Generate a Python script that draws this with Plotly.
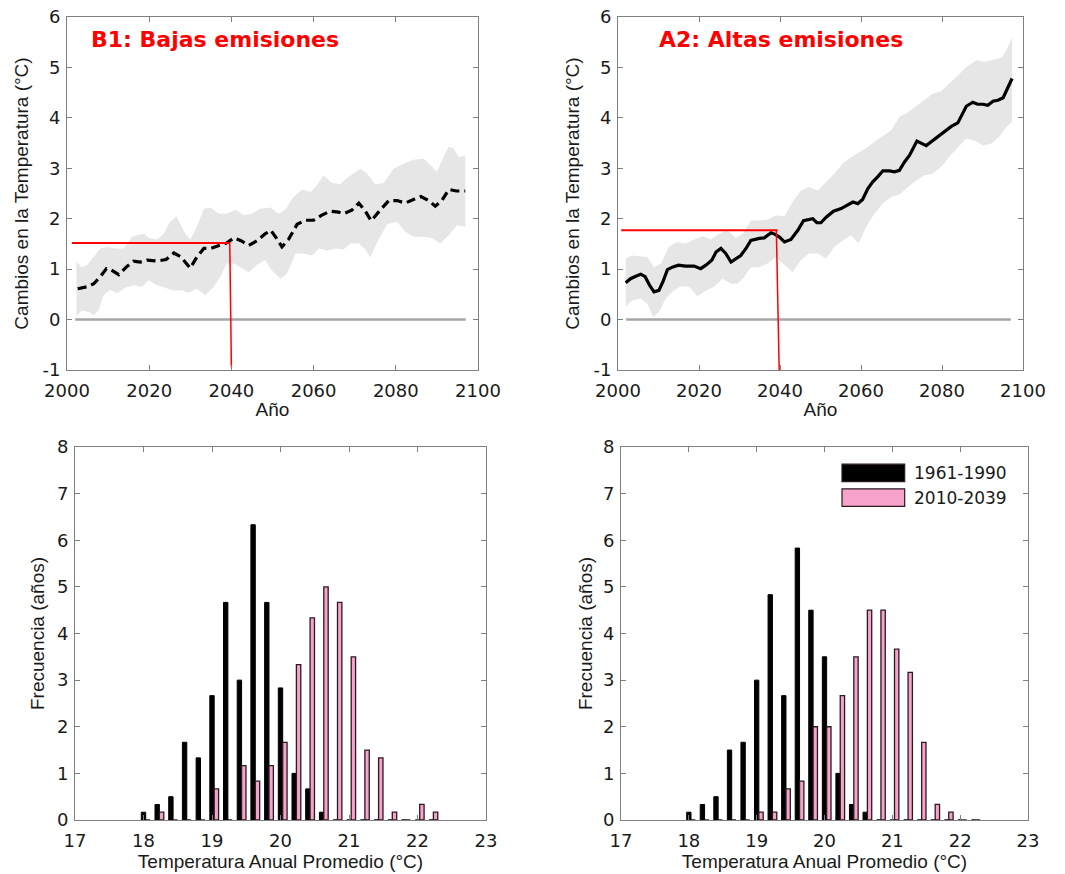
import plotly.graph_objects as go

# ---------------- Data: B1 (low emissions) ----------------
b1_years = [2002.6, 2004.9, 2006.5, 2008.1, 2009.6, 2010.8, 2012.6, 2014.4, 2016.2, 2017.8,
            2019.5, 2021.9, 2024.1, 2026.0, 2027.6, 2030.0, 2031.6, 2033.3, 2034.9, 2036.5,
            2038.9, 2040.6, 2042.2, 2044.2, 2046.2, 2048.2, 2049.6, 2050.9, 2052.3, 2053.9,
            2056.0, 2058.0, 2060.0, 2062.0, 2064.0, 2066.1, 2067.3, 2069.3, 2071.0, 2072.6,
            2074.0, 2076.2, 2078.3, 2080.3, 2082.3, 2084.3, 2086.1, 2088.0, 2089.6, 2091.2,
            2092.9, 2094.7, 2096.9]
b1_mean = [0.61, 0.65, 0.71, 0.85, 1.01, 0.98, 0.89, 1.04, 1.16, 1.14,
           1.18, 1.16, 1.19, 1.32, 1.25, 1.02, 1.24, 1.41, 1.41, 1.45,
           1.52, 1.62, 1.57, 1.47, 1.56, 1.70, 1.77, 1.62, 1.44, 1.59,
           1.89, 1.97, 1.97, 2.07, 2.15, 2.13, 2.10, 2.17, 2.31, 2.15,
           1.96, 2.17, 2.36, 2.36, 2.31, 2.38, 2.44, 2.36, 2.25, 2.36,
           2.58, 2.55, 2.55]
b1_up_years = [2002.3, 2003.6, 2004.9, 2006.5, 2008.1, 2009.7, 2011.8, 2013.8, 2015.8, 2017.0,
               2018.7, 2019.9, 2021.9, 2023.5, 2025.1, 2026.6, 2027.6, 2028.8, 2030.0, 2031.6,
               2033.3, 2034.9, 2037.0, 2038.9, 2041.0, 2043.0, 2045.0, 2047.0, 2049.5, 2051.5,
               2053.1, 2055.1, 2057.2, 2059.2, 2060.8, 2062.4, 2064.5, 2066.5, 2068.5, 2071.4,
               2073.0, 2075.0, 2077.0, 2079.5, 2081.9, 2084.3, 2086.8, 2088.8, 2090.0, 2091.6,
               2092.9, 2094.1, 2095.3, 2096.9]
b1_upper = [1.14, 1.04, 1.08, 1.24, 1.41, 1.44, 1.41, 1.41, 1.64, 1.67,
            1.70, 1.62, 1.59, 1.70, 1.94, 2.05, 1.90, 1.70, 1.59, 1.84,
            2.20, 2.22, 2.10, 2.10, 2.18, 2.07, 2.10, 2.20, 2.22, 2.10,
            2.18, 2.43, 2.58, 2.53, 2.66, 2.86, 2.71, 2.69, 2.83, 2.99,
            2.89, 2.68, 2.71, 2.99, 3.09, 3.17, 3.19, 3.03, 2.93, 3.22,
            3.43, 3.39, 3.22, 3.26]
b1_lo_years = [2002.3, 2003.6, 2005.3, 2006.5, 2007.7, 2008.9, 2010.5, 2012.2, 2014.2, 2016.2,
               2018.2, 2019.9, 2021.9, 2023.9, 2026.0, 2028.0, 2029.6, 2031.6, 2033.7, 2035.7,
               2037.3, 2038.9, 2040.6, 2042.2, 2044.2, 2046.2, 2048.2, 2049.8, 2051.9, 2053.5,
               2055.6, 2057.6, 2059.6, 2061.3, 2063.3, 2065.3, 2067.3, 2069.0, 2071.0, 2072.6,
               2073.8, 2075.8, 2077.9, 2080.3, 2082.3, 2084.3, 2086.8, 2088.8, 2090.8, 2092.9,
               2094.9, 2096.9]
b1_lower = [0.07, 0.18, 0.15, 0.09, 0.18, 0.48, 0.59, 0.52, 0.63, 0.68,
            0.65, 0.78, 0.68, 0.63, 0.57, 0.58, 0.53, 0.61, 0.48, 0.65,
            0.85, 1.11, 1.11, 1.04, 0.94, 1.08, 1.18, 0.98, 0.81, 0.91,
            1.31, 1.31, 1.27, 1.41, 1.37, 1.41, 1.39, 1.51, 1.51, 1.39,
            1.23, 1.59, 1.89, 1.94, 1.74, 1.64, 1.64, 1.62, 1.51, 1.67,
            1.87, 1.84]

# ---------------- Data: A2 (high emissions) ----------------
a2_years = [2001.9, 2003.1, 2004.4, 2005.6, 2006.7, 2007.8, 2008.9, 2010.1, 2011.1, 2012.2,
            2013.4, 2014.9, 2016.7, 2018.8, 2020.4, 2021.7, 2023.2, 2024.2, 2025.4, 2026.6,
            2027.9, 2029.1, 2030.3, 2031.6, 2032.8, 2034.9, 2036.1, 2037.8, 2038.8, 2039.8,
            2041.1, 2042.7, 2044.4, 2045.8, 2047.1, 2048.1, 2049.1, 2050.1, 2051.4, 2053.2,
            2055.1, 2056.7, 2058.0, 2059.2, 2060.4, 2061.7, 2062.9, 2064.1, 2065.4, 2067.0,
            2068.3, 2069.5, 2070.7, 2072.0, 2073.8, 2076.1, 2077.7, 2079.4, 2080.6, 2082.3,
            2083.9, 2084.7, 2086.0, 2087.6, 2088.8, 2090.1, 2091.3, 2092.6, 2093.8, 2095.1,
            2095.9, 2096.7, 2097.3]
a2_mean = [0.73, 0.81, 0.86, 0.90, 0.85, 0.68, 0.55, 0.58, 0.75, 0.99,
           1.04, 1.08, 1.06, 1.06, 1.01, 1.08, 1.18, 1.34, 1.41, 1.31,
           1.14, 1.21, 1.27, 1.41, 1.57, 1.61, 1.62, 1.72, 1.69, 1.64,
           1.54, 1.59, 1.77, 1.96, 1.98, 2.00, 1.92, 1.92, 2.03, 2.15,
           2.20, 2.27, 2.33, 2.30, 2.38, 2.60, 2.73, 2.83, 2.95, 2.95,
           2.93, 2.96, 3.12, 3.26, 3.54, 3.45, 3.55, 3.65, 3.72, 3.83,
           3.90, 4.02, 4.23, 4.31, 4.27, 4.27, 4.25, 4.33, 4.35, 4.40,
           4.54, 4.69, 4.78]
a2_up_years = [2001.9, 2003.5, 2005.6, 2007.2, 2008.9, 2010.6, 2012.6, 2014.7, 2016.7, 2018.8,
               2020.9, 2022.9, 2025.0, 2027.0, 2029.1, 2030.8, 2032.8, 2034.9, 2036.9, 2039.0,
               2041.1, 2043.1, 2045.2, 2047.2, 2049.3, 2051.4, 2053.4, 2055.5, 2057.5, 2059.6,
               2061.7, 2063.7, 2065.4, 2067.4, 2069.5, 2071.6, 2073.6, 2075.7, 2077.7, 2079.8,
               2081.9, 2083.9, 2086.0, 2088.5, 2090.5, 2092.6, 2094.7, 2095.9, 2097.3]
a2_upper = [1.21, 1.27, 1.25, 1.24, 1.04, 1.11, 1.45, 1.54, 1.51, 1.59,
            1.65, 1.59, 1.70, 1.77, 1.62, 1.70, 1.96, 1.97, 1.98, 2.07,
            2.05, 2.33, 2.56, 2.63, 2.56, 2.73, 2.89, 3.09, 3.22, 3.32,
            3.42, 3.55, 3.65, 3.75, 4.02, 4.11, 4.23, 4.35, 4.48, 4.53,
            4.68, 4.84, 5.01, 5.14, 5.11, 5.15, 5.19, 5.34, 5.60]
a2_lo_years = [2001.9, 2003.5, 2005.6, 2007.2, 2008.7, 2010.1, 2011.8, 2013.4, 2015.5, 2017.6,
               2019.6, 2021.7, 2023.7, 2025.8, 2027.9, 2029.5, 2031.2, 2032.8, 2034.9, 2036.9,
               2039.0, 2041.1, 2043.1, 2045.2, 2047.2, 2049.3, 2051.4, 2053.4, 2055.5, 2057.5,
               2059.4, 2061.3, 2063.3, 2065.4, 2067.4, 2069.5, 2071.6, 2073.6, 2075.7, 2077.7,
               2079.8, 2081.9, 2083.9, 2086.0, 2088.1, 2090.1, 2092.2, 2094.2, 2095.9, 2097.3]
a2_lower = [0.26, 0.38, 0.42, 0.32, 0.05, 0.15, 0.42, 0.55, 0.66, 0.65,
            0.46, 0.57, 0.65, 0.81, 0.71, 0.71, 0.85, 1.04, 1.04, 1.11,
            1.24, 1.08, 0.94, 1.18, 1.31, 1.31, 1.21, 1.44, 1.57, 1.67,
            1.51, 1.84, 2.10, 2.30, 2.43, 2.48, 2.63, 2.76, 2.86, 2.89,
            3.03, 3.24, 3.42, 3.59, 3.55, 3.45, 3.49, 3.63, 3.82, 3.92]

zero_years = [2002, 2097]
zero_vals = [0, 0]

# Red guide lines (year, value)
b1_guide_h_x = [2001.2, 2039.6]
b1_guide_h_y = [1.52, 1.52]
b1_guide_v_x = [2039.6, 2040.0]
b1_guide_v_y = [1.52, -0.95]
a2_guide_h_x = [2000.8, 2039.4]
a2_guide_h_y = [1.77, 1.77]
a2_guide_v_x = [2039.1, 2039.8]
a2_guide_v_y = [1.77, -1.0]

# ---------------- Data: histograms ----------------
temp_bins = [18.0, 18.2, 18.4, 18.6, 18.8, 19.0, 19.2, 19.4, 19.6, 19.8,
             20.0, 20.2, 20.4, 20.6, 20.8, 21.0, 21.2, 21.4, 21.6, 21.8,
             22.0, 22.2]
b1_hist_1961 = [0.167, 0.333, 0.5, 1.667, 1.333, 2.667, 4.667, 3.0, 6.333, 4.667,
                2.833, 1.0, 0.667, 0.167, 0, 0, 0, 0, 0, 0,
                0, 0]
b1_hist_2010 = [0, 0.167, 0, 0, 0, 0.667, 0, 1.167, 0.833, 1.167,
                1.667, 3.333, 4.333, 5.0, 4.667, 3.5, 1.5, 1.333, 0.167, 0,
                0.333, 0.167]
a2_hist_1961 = [0.167, 0.333, 0.5, 1.5, 1.667, 3.0, 4.833, 2.667, 5.833, 4.5,
                3.5, 1.0, 0.333, 0.167, 0, 0, 0, 0, 0, 0,
                0, 0]
a2_hist_2010 = [0, 0, 0, 0, 0, 0.167, 0.167, 0.667, 0.833, 2.0,
                2.0, 2.667, 3.5, 4.5, 4.5, 3.667, 3.167, 1.667, 0.333, 0.167,
                0, 0]

series_names = ["1961-1990", "2010-2039"]
titles = ["B1: Bajas emisiones", "A2: Altas emisiones"]
year_ticks = [2000, 2020, 2040, 2060, 2080, 2100]
change_ticks = [-1, 0, 1, 2, 3, 4, 5, 6]
change_tick_text = ["-1", "0", "1", "2", "3", "4", "5", "6"]
temp_ticks = [17, 18, 19, 20, 21, 22, 23]
freq_ticks = [0, 1, 2, 3, 4, 5, 6, 7, 8]

# ---------------- Styles ----------------
W, H = 1065, 874
BAND = "#E6E6E6"
PINK = "#F5A3CB"
AXC = "#808080"
TICKFONT = dict(family="DejaVu Sans", size=18, color="#1a1a1a")
TITLEFONT = dict(family="Liberation Sans, Arial", size=19, color="#1a1a1a")


def dom_x(a, b):
    return [a / W, b / W]


def dom_y(top, bottom):
    return [1 - bottom / H, 1 - top / H]


fig = go.Figure()


def add_ts(xa, ya, uy, u, ly, l, my, m, dash, gh, gv):
    fig.add_trace(go.Scatter(
        x=uy + ly[::-1], y=u + l[::-1], fill="toself", fillcolor=BAND,
        line=dict(width=0), mode="lines", hoverinfo="skip", showlegend=False,
        xaxis=xa, yaxis=ya))
    fig.add_trace(go.Scatter(x=zero_years, y=zero_vals, mode="lines",
                             line=dict(color="#A6A6A6", width=2.5), showlegend=False,
                             xaxis=xa, yaxis=ya))
    fig.add_trace(go.Scatter(x=my, y=m, mode="lines",
                             line=dict(color="black", width=3.2, dash=dash),
                             showlegend=False, xaxis=xa, yaxis=ya))
    fig.add_trace(go.Scatter(x=gh[0], y=gh[1], mode="lines",
                             line=dict(color="#FF0000", width=2), showlegend=False,
                             xaxis=xa, yaxis=ya))
    fig.add_trace(go.Scatter(x=gv[0], y=gv[1], mode="lines",
                             line=dict(color="#FF0000", width=1.5), showlegend=False,
                             xaxis=xa, yaxis=ya))


add_ts("x", "y", b1_up_years, b1_upper, b1_lo_years, b1_lower, b1_years, b1_mean,
       "9px,5px", (b1_guide_h_x, b1_guide_h_y), (b1_guide_v_x, b1_guide_v_y))
add_ts("x2", "y2", a2_up_years, a2_upper, a2_lo_years, a2_lower, a2_years, a2_mean,
       "solid", (a2_guide_h_x, a2_guide_h_y), (a2_guide_v_x, a2_guide_v_y))

BW = 0.064


def add_hist(xa, ya, h1, h2):
    fig.add_trace(go.Bar(x=temp_bins, y=h1, name=series_names[0], width=BW, offset=-BW / 2,
                         marker=dict(color="black", line=dict(color="black", width=1)),
                         showlegend=False, xaxis=xa, yaxis=ya))
    fig.add_trace(go.Bar(x=temp_bins, y=h2, name=series_names[1], width=BW, offset=BW / 2,
                         marker=dict(color=PINK, line=dict(color="#2a1a22", width=1.3)),
                         showlegend=False, xaxis=xa, yaxis=ya))


add_hist("x3", "y3", b1_hist_1961, b1_hist_2010)
add_hist("x4", "y4", a2_hist_1961, a2_hist_2010)


def axis_style(**kw):
    d = dict(showline=True, linecolor=AXC, linewidth=1, mirror="ticks", ticks="inside",
             ticklen=5, tickcolor=AXC, showgrid=False, zeroline=False, tickfont=TICKFONT,
             title_font=TITLEFONT, automargin=False, tickmode="array")
    d.update(kw)
    return d


XSO = 4   # x tick label standoff
YSO = 2   # y tick label standoff
fig.update_layout(
    width=W, height=H, margin=dict(l=0, r=0, t=0, b=0),
    paper_bgcolor="white", plot_bgcolor="white", barmode="overlay",
    xaxis=axis_style(domain=dom_x(67, 478), anchor="y", range=[2000, 2100], tickvals=year_ticks,
                     ticklabelstandoff=XSO, title=dict(text="Año", standoff=3)),
    yaxis=axis_style(domain=dom_y(17, 370), anchor="x", range=[-1, 6], tickvals=change_ticks,
                     ticktext=change_tick_text, ticklabelstandoff=YSO,
                     title=dict(text="Cambios en la Temperatura (°C)", standoff=8)),
    xaxis2=axis_style(domain=dom_x(618, 1023), anchor="y2", range=[2000, 2100], tickvals=year_ticks,
                      ticklabelstandoff=XSO, title=dict(text="Año", standoff=3)),
    yaxis2=axis_style(domain=dom_y(17, 370), anchor="x2", range=[-1, 6], tickvals=change_ticks,
                      ticktext=change_tick_text, ticklabelstandoff=YSO,
                      title=dict(text="Cambios en la Temperatura (°C)", standoff=8)),
    xaxis3=axis_style(domain=dom_x(75, 486), anchor="y3", range=[17, 23], tickvals=temp_ticks,
                      ticklabelstandoff=XSO,
                      title=dict(text="Temperatura Anual Promedio (°C)", standoff=3)),
    yaxis3=axis_style(domain=dom_y(447, 820), anchor="x3", range=[0, 8], tickvals=freq_ticks,
                      ticklabelstandoff=YSO,
                      title=dict(text="Frecuencia (años)", standoff=7)),
    xaxis4=axis_style(domain=dom_x(621, 1028), anchor="y4", range=[17, 23], tickvals=temp_ticks,
                      ticklabelstandoff=XSO,
                      title=dict(text="Temperatura Anual Promedio (°C)", standoff=3)),
    yaxis4=axis_style(domain=dom_y(447, 820), anchor="x4", range=[0, 8], tickvals=freq_ticks,
                      ticklabelstandoff=YSO,
                      title=dict(text="Frecuencia (años)", standoff=5)),
)

# Panel titles
for i, (xr, yr) in enumerate([("x domain", "y domain"), ("x2 domain", "y2 domain")]):
    fig.add_annotation(text=f"<b>{titles[i]}</b>", xref=xr, yref=yr,
                       x=0.053 if i == 0 else 0.096, y=0.935, xanchor="left", yanchor="middle",
                       showarrow=False,
                       font=dict(family="DejaVu Sans", size=22, color="#FF0000"))

# Legend (bottom-right panel)
leg_colors = ["black", PINK]
for i, name in enumerate(series_names):
    y0 = 0.907 - i * 0.066
    fig.add_shape(type="rect", xref="x4 domain", yref="y4 domain",
                  x0=0.543, x1=0.697, y0=y0, y1=y0 + 0.047,
                  fillcolor=leg_colors[i], line=dict(color="#2a1a22", width=1.2))
    fig.add_annotation(text=name, xref="x4 domain", yref="y4 domain",
                       x=0.715, y=y0 + 0.0235, xanchor="left", yanchor="middle",
                       showarrow=False,
                       font=dict(family="DejaVu Sans", size=17, color="#1a1a1a"))

fig.write_html("out.html", config={"displayModeBar": False},
               post_script="document.body.style.margin='0px';")
